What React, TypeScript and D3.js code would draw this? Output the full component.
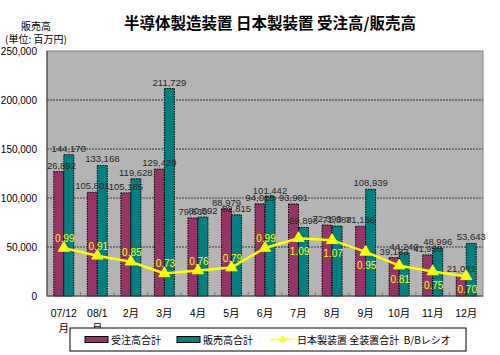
import React from "react";
import * as d3 from "d3";

const categories = ["07/12\n月", "08/1\n月", "2月", "3月", "4月", "5月", "6月", "7月", "8月", "9月", "10月", "11月", "12月"];
const orders = [126892, 105801, 105185, 129429, 79630, 88979, 94015, 93901, 72390, 71166, 39183, 41938, 21021];
const sales = [144170, 133168, 119628, 211729, 80592, 82815, 101442, 69898, 71388, 108939, 44240, 48996, 53643];
const bbRatio = [0.99, 0.91, 0.85, 0.73, 0.76, 0.79, 0.99, 1.09, 1.07, 0.95, 0.81, 0.75, 0.70];
const yTicks = [0, 50000, 100000, 150000, 200000, 250000];

const W = 500, H = 355;
const L = 47, R = 483, T = 51, B = 296;
const NUM_FONT = "'Liberation Sans', Arial, 'Noto Sans CJK JP', sans-serif";
const JP_FONT = "'Liberation Sans', 'Noto Sans CJK JP', sans-serif";
const MAROON = "#993366";
const TEAL = "#008080";
const YELLOW = "#FFFF00";

export default function App() {
  const x = d3.scaleBand<string>().domain(categories).range([L, R]).padding(0);
  const bw = x.bandwidth();
  const inner = d3.scaleBand<string>().domain(["o", "s"]).range([bw / 2 - 10, bw / 2 + 10]).padding(0);
  const y = d3.scaleLinear().domain([0, 250000]).range([B, T]);
  const y2 = d3.scaleLinear().domain([0.5, 3.0]).range([B, T]);
  const fmt = d3.format(",");
  const cx = (c: string) => (x(c) as number) + bw / 2;

  const line = d3.line<number>()
    .x((_, i) => cx(categories[i]))
    .y((d) => y2(d));

  const tri = d3.symbol().type(d3.symbolTriangle).size(55)();

  return (
    <svg width={W} height={H} style={{ position: "absolute", left: 0, top: 0, background: "#fff" }}>
      <defs>
        <clipPath id="plotclip">
          <rect x={L} y={0} width={R - L + 6} height={B} />
        </clipPath>
      </defs>
      {/* title */}
      <text x={270} y={29} textAnchor="middle" fontFamily="'Noto Sans CJK JP', sans-serif" fontWeight="bold" fontSize={15.5} fill="#000">
        半導体製造装置 日本製装置 受注高/販売高
      </text>
      <text x={36} y={30} textAnchor="middle" fontFamily="'Noto Sans CJK JP', sans-serif" fontSize={10} fill="#000">販売高</text>
      <text x={36} y={43} textAnchor="middle" fontFamily="'Noto Sans CJK JP', sans-serif" fontSize={10} fill="#000">(単位: 百万円)</text>

      {/* plot background */}
      <rect x={L} y={T} width={R - L} height={B - T} fill="#b4b4b4" stroke="#808080" strokeWidth={1} />

      {/* gridlines */}
      {yTicks.filter((t) => t > 0 && t < 250000).map((t) => (
        <line key={t} x1={L} x2={R} y1={y(t)} y2={y(t)} stroke="#3a3a3a" strokeWidth={1} strokeDasharray="2,1" />
      ))}

      {/* y tick labels */}
      {yTicks.map((t) => (
        <text key={t} x={37} y={y(t) + 4} textAnchor="end" fontFamily={NUM_FONT} fontSize={10} fill="#000">
          {fmt(t)}
        </text>
      ))}

      {/* bars */}
      {categories.map((c, i) => (
        <g key={c}>
          <rect x={(x(c) as number) + (inner("o") as number)} y={y(orders[i])} width={inner.bandwidth()} height={B - y(orders[i])}
            fill={MAROON} stroke="#000" strokeWidth={1} strokeDasharray="1.5,1" />
          <rect x={(x(c) as number) + (inner("s") as number)} y={y(sales[i])} width={inner.bandwidth()} height={B - y(sales[i])}
            fill={TEAL} stroke="#000" strokeWidth={1} strokeDasharray="1.5,1" />
        </g>
      ))}

      {/* category boundary ticks */}
      {categories.slice(1).map((c) => (
        <line key={c} x1={x(c) as number} x2={x(c) as number} y1={B} y2={B - 4} stroke="#808080" strokeWidth={1} />
      ))}
      <line x1={L} x2={R} y1={B} y2={B} stroke="#404040" strokeWidth={1} />
      <line x1={L} x2={L} y1={T} y2={B} stroke="#404040" strokeWidth={1} />

      {/* value labels */}
      <g clipPath="url(#plotclip)">
        {categories.map((c, i) => (
          <g key={c}>
            <text x={(x(c) as number) + (inner("o") as number) + inner.bandwidth() / 2} y={y(orders[i]) - 3}
              textAnchor="middle" fontFamily={NUM_FONT} fontSize={9.5} fill="#262626">{fmt(orders[i])}</text>
            <text x={(x(c) as number) + (inner("s") as number) + inner.bandwidth() / 2} y={y(sales[i]) - 3}
              textAnchor="middle" fontFamily={NUM_FONT} fontSize={9.5} fill="#262626">{fmt(sales[i])}</text>
          </g>
        ))}
      </g>

      {/* B/B ratio line */}
      <path d={line(bbRatio) || ""} fill="none" stroke={YELLOW} strokeWidth={2.5} />
      {bbRatio.map((v, i) => (
        <path key={i} d={tri || ""} transform={`translate(${cx(categories[i])},${y2(v)})`} fill={YELLOW} stroke={YELLOW} />
      ))}
      {bbRatio.map((v, i) => (
        <text key={i} x={cx(categories[i]) + 1} y={i <= 6 ? y2(v) - 6 : y2(v) + 17} textAnchor="middle"
          fontFamily={NUM_FONT} fontSize={10} fill={YELLOW}>{v.toFixed(2)}</text>
      ))}

      {/* x labels */}
      {categories.map((c) => {
        const parts = c.split("\n");
        return (
          <text key={c} x={cx(c)} y={317} textAnchor="middle" fontFamily={JP_FONT} fontSize={10.5} fill="#000">
            {parts.map((p, j) => (
              <tspan key={j} x={cx(c)} dy={j === 0 ? 0 : 15}>{p}</tspan>
            ))}
          </text>
        );
      })}

      {/* legend */}
      <rect x={70} y={328} width={396} height={23} fill="#fff" stroke="#000" strokeWidth={1} />
      <rect x={85} y={336.5} width={23} height={6} fill={MAROON} stroke="#000" strokeWidth={1} />
      <text x={111} y={344} fontFamily="'Noto Sans CJK JP', sans-serif" fontSize={10} fill="#000">受注高合計</text>
      <rect x={177} y={336.5} width={23} height={6} fill={TEAL} stroke="#000" strokeWidth={1} />
      <text x={203} y={344} fontFamily="'Noto Sans CJK JP', sans-serif" fontSize={10} fill="#000">販売高合計</text>
      <line x1={270} x2={295} y1={339.5} y2={339.5} stroke={YELLOW} strokeWidth={1.5} />
      <path d={d3.symbol().type(d3.symbolTriangle).size(30)() || ""} transform="translate(282.5,339.5)" fill={YELLOW} />
      <text x={297} y={344} fontFamily="'Noto Sans CJK JP', sans-serif" fontSize={10} fill="#000" style={{ whiteSpace: "pre" }}>
        {"日本製装置 全装置合計  B/Bレシオ"}
      </text>
    </svg>
  );
}
